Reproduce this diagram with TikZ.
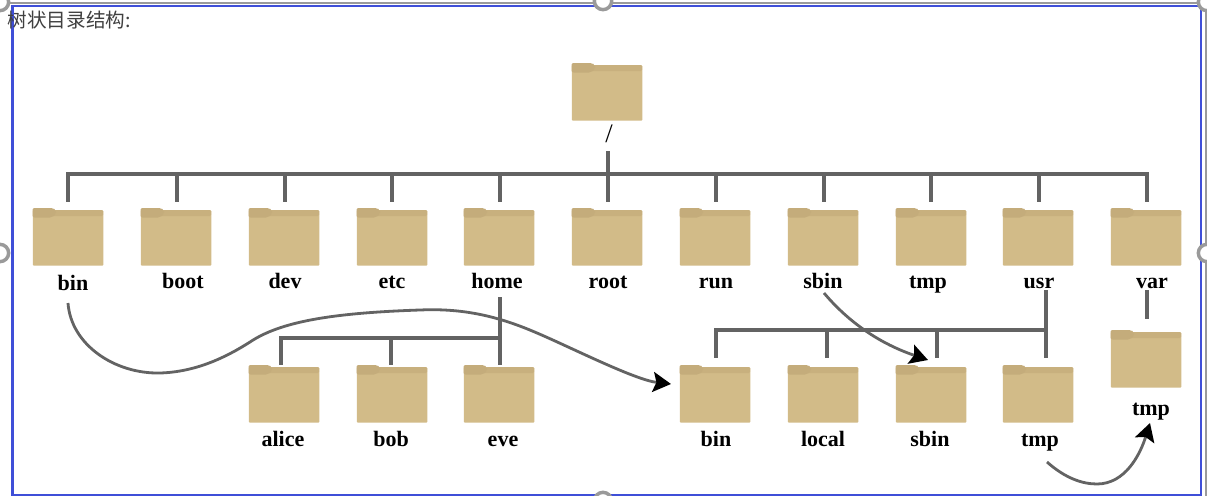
\documentclass[tikz,border=0pt]{standalone}
\usepackage{fontspec}
\setmainfont{Liberation Serif}
\newfontfamily\cjk{Noto Sans CJK SC}
\usetikzlibrary{arrows.meta}
\definecolor{fbody}{HTML}{D2BB88}
\definecolor{fband}{HTML}{C8B07E}
\definecolor{ftab}{HTML}{C4AC7B}
\definecolor{conn}{HTML}{636363}
\definecolor{frameblue}{HTML}{3F4FD8}
\definecolor{framegray}{HTML}{9A9A9A}
\tikzset{
  folderbody/.style={fill=fbody,draw=none,inner sep=0pt,minimum width=53pt,minimum height=41.6pt,anchor=north west,rounded corners=0.8pt},
  flabel/.style={font=\bfseries\fontsize{16.5}{18}\selectfont,text=black,inner sep=0pt,anchor=base},
  busline/.style={draw=conn,line width=2.3pt},
  curveline/.style={draw=conn,line width=2.1pt},
  bigarrow/.style={curveline,-{Stealth[length=13.5pt,width=15pt,inset=2.5pt,fill=black,color=black]}},
  handle/.style={circle,draw=framegray,fill=white,line width=2.6pt,minimum size=13pt,inner sep=0pt},
}
% name, left x, top y, label, label x, label baseline y
\newcommand{\folderat}[6]{%
  \node[folderbody] (#1) at (#2+0.5,#3+2) {};
  \fill[fband,rounded corners=0.8pt] (#2+20,#3+2) -- (#2+71,#3+2) -- (#2+71,#3+8) -- (#2+20,#3+8) -- cycle;
  \fill[ftab,rounded corners=1.5pt] (#2+0.5,#3+9.5) -- (#2+0.5,#3) -- (#2+21,#3) -- (#2+24,#3+2) -- (#2+24,#3+6) -- (#2+20,#3+9.5) -- cycle;
  \node[flabel] (#1L) at (#5,#6) {#4};
}
\begin{document}
\begin{tikzpicture}[x=0.75pt,y=-0.75pt]
\useasboundingbox (0,0) rectangle (1207,496);
\clip (0,0) rectangle (1207,496);
\fill[white] (0,0) rectangle (1207,496);
% selection frame
\draw[framegray,line width=1.6pt] (8,3) -- (1207,3);
\draw[framegray,line width=1.4pt] (1206,3) -- (1206,496);
\draw[frameblue,line width=1.8pt] (12.5,6) rectangle (1201,495);
\node[handle] (hT) at (603,1) {};
\node[handle] (hB) at (603,501) {};
\node[handle] (hL) at (0,253) {};
\node[handle] (hR) at (1207,253) {};
\node[handle] (hTL) at (0,2) {};
\node[handle] (hTR) at (1207,2) {};
\node[anchor=west,inner sep=0pt,text=black!75,font=\cjk\fontsize{14.7}{16}\selectfont] (title) at (7.5,20) {树状目录结构:};
% folders
\node[folderbody] (root0) at (571.5,65) {};
\fill[fband,rounded corners=0.8pt] (591,65) -- (642,65) -- (642,71) -- (591,71) -- cycle;
\fill[ftab,rounded corners=1.5pt] (571.5,72.5) -- (571.5,63) -- (592,63) -- (595,65) -- (595,69) -- (591,72.5) -- cycle;
\node[flabel,font=\fontsize{20}{22}\selectfont] (root0L) at (609,142) {/};
\folderat{bin}{32}{208}{bin}{73}{290}
\folderat{boot}{140}{208}{boot}{183}{288}
\folderat{dev}{248}{208}{dev}{285}{288}
\folderat{etc}{356}{208}{etc}{392}{288}
\folderat{home}{463}{208}{home}{497}{288}
\folderat{rootd}{571}{208}{root}{608}{288}
\folderat{run}{679}{208}{run}{716}{288}
\folderat{sbin}{787}{208}{sbin}{823}{288}
\folderat{tmp}{895}{208}{tmp}{928}{288}
\folderat{usr}{1002}{208}{usr}{1039}{288}
\folderat{var}{1110}{208}{var}{1152}{288}
\folderat{alice}{248}{365}{alice}{283}{446.5}
\folderat{bob}{356}{365}{bob}{391}{446.5}
\folderat{eve}{463}{365}{eve}{503}{446.5}
\folderat{ubin}{679}{365}{bin}{716}{446.5}
\folderat{local}{787}{365}{local}{823}{446.5}
\folderat{usbin}{895}{365}{sbin}{930}{446.5}
\folderat{utmp}{1002}{365}{tmp}{1040}{446.5}
\folderat{vtmp}{1110}{330}{tmp}{1151}{415.5}
% main bus
\coordinate (stemTop) at (608,151);
\coordinate (busL) at (68,174);
\coordinate (busR) at (1147,174);
\draw[busline] (stemTop) -- (608,202);
\draw[busline,line cap=rect] (busL) -- (busR);
\foreach \x in {68,177,285,392,500,716,824,931,1039,1147}{
  \coordinate (dropA) at (\x,174);
  \coordinate (dropB) at (\x,202);
  \draw[busline] (dropA) -- (dropB);
}
% home
\coordinate (homeS) at (500,297);
\coordinate (homeE) at (500,365);
\coordinate (homeJ) at (500,338);
\coordinate (aliceJ) at (281,338);
\coordinate (aliceE) at (281,365);
\coordinate (bobJ) at (391,338);
\coordinate (bobE) at (391,365);
\draw[busline] (homeS) -- (homeE);
\draw[busline,line cap=rect] (aliceJ) -- (homeJ);
\draw[busline] (aliceJ) -- (aliceE);
\draw[busline] (bobJ) -- (bobE);
% usr
\coordinate (usrS) at (1046,290);
\coordinate (usrE) at (1046,358);
\coordinate (usrJ) at (1046,330);
\draw[busline] (usrS) -- (usrE);
\coordinate (ubinJ) at (716,330);
\coordinate (ubinE) at (716,358);
\coordinate (locJ) at (827,330);
\coordinate (locE) at (827,358);
\coordinate (sbJ) at (937,330);
\coordinate (sbE) at (937,358);
\draw[busline,line cap=rect] (ubinJ) -- (usrJ);
\draw[busline] (ubinJ) -- (ubinE);
\draw[busline] (locJ) -- (locE);
\draw[busline] (sbJ) -- (sbE);
% var
\coordinate (varS) at (1147,290);
\coordinate (varE) at (1147,319);
\draw[busline] (varS) -- (varE);
% curves
\coordinate (c1S) at (68,303);
\coordinate (c1E) at (671,384);
\draw[bigarrow] (c1S) .. controls (71,345) and (115,374) .. (160,373)
  .. controls (195,372) and (225,358) .. (250,342)
  .. controls (280,322) and (330,313) .. (420,310)
  .. controls (465,308) and (500,317) .. (537,333)
  .. controls (570,347) and (635,380) .. (c1E);
\coordinate (c2S) at (824,293);
\coordinate (c2E) at (928,360);
\draw[bigarrow] (c2S) .. controls (845,318) and (875,342) .. (c2E);
\coordinate (c3S) at (1047,462);
\coordinate (c3E) at (1150,423);
\draw[bigarrow] (c3S) .. controls (1065,478) and (1082,484) .. (1097,484)
  .. controls (1125,484) and (1140,455) .. (c3E);
\end{tikzpicture}
\end{document}
